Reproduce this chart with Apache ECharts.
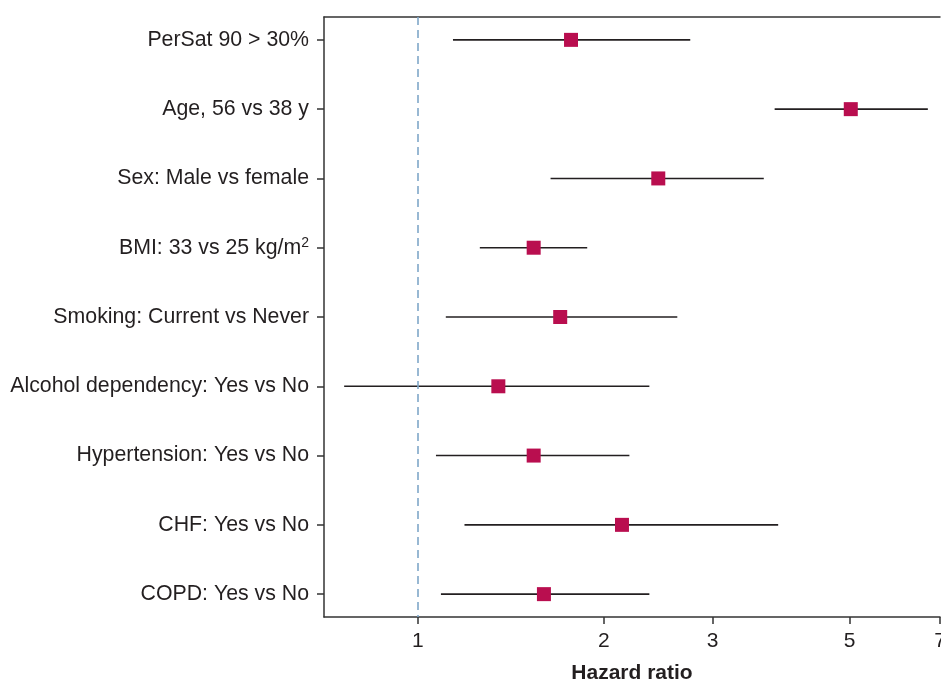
<!DOCTYPE html>
<html>
<head>
<meta charset="utf-8">
<title>Hazard ratio</title>
<script src="https://cdn.jsdelivr.net/npm/echarts@6/dist/echarts.min.js"></script>
<style>
  html, body { margin: 0; padding: 0; background: #fff; }
  #chart_main { width: 941px; height: 680px; }
</style>
</head>
<body>
<div id="chart_main"></div>
<script type="text/javascript">
// risk factors, top to bottom
var factors = [
    'PerSat 90 > 30%',
    'Age, 56 vs 38 y',
    'Sex: Male vs female',
    'BMI: 33 vs 25 kg/m{sup|2}',
    'Smoking: Current vs Never',
    'Alcohol dependency: Yes vs No',
    'Hypertension: Yes vs No',
    'CHF: Yes vs No',
    'COPD: Yes vs No'
];
var hr    = [1.77, 5.02, 2.45, 1.54, 1.70, 1.35, 1.54, 2.14, 1.60];
var lower = [1.14, 3.78, 1.64, 1.26, 1.11, 0.76, 1.07, 1.19, 1.09];
var upper = [2.76, 6.69, 3.63, 1.88, 2.63, 2.37, 2.20, 3.83, 2.37];
var xTicks = [1, 2, 3, 5, 7];
var xMin = 0.705, xMax = 7;

var font = "'Liberation Sans', Arial, Helvetica, sans-serif";
var ink = '#231f20';
var lg = function(v){ return Math.log10(v); };

var ciData = [], pointData = [];
for (var i = 0; i < factors.length; i++) {
    ciData.push([lg(lower[i]), lg(upper[i]), i]);
    pointData.push([lg(hr[i]), i]);
}
var tickPos = xTicks.map(lg);
var rows = factors.map(function(f, i){ return i; });

var myChart = echarts.init(document.getElementById('chart_main'));
var option = {
    backgroundColor: '#fff',
    animation: false,
    grid: { left: 324, right: 1, top: 17, bottom: 63, outerBoundsMode: 'none', containLabel: false },
    xAxis: [{
        type: 'value',
        min: lg(xMin), max: lg(xMax),
        name: 'Hazard ratio',
        nameLocation: 'middle',
        nameGap: 46,
        nameTextStyle: { fontFamily: font, fontSize: 21, fontWeight: 'bold', color: ink },
        axisLine: { show: true, onZero: false, lineStyle: { color: '#333', width: 1.5 } },
        axisTick: { show: true, length: 7, customValues: tickPos, lineStyle: { color: '#333', width: 1.5 } },
        axisLabel: {
            customValues: tickPos,
            margin: 14,
            fontFamily: font, fontSize: 21, color: ink,
            formatter: function(v){ return String(Math.round(Math.pow(10, v))); }
        },
        splitLine: { show: false }
    }, {
        type: 'value',
        position: 'top',
        min: lg(xMin), max: lg(xMax),
        axisLine: { show: true, onZero: false, lineStyle: { color: '#333', width: 1.5 } },
        axisTick: { show: false },
        axisLabel: { show: false },
        splitLine: { show: false }
    }],
    yAxis: {
        type: 'value',
        inverse: true,
        min: -0.33, max: 8.33,
        axisLine: { show: true, onZero: false, lineStyle: { color: '#333', width: 1.5 } },
        axisTick: { show: true, length: 7, customValues: rows, lineStyle: { color: '#333', width: 1.5 } },
        axisLabel: {
            customValues: rows,
            margin: 15,
            fontFamily: font, fontSize: 21.3, color: ink,
            formatter: function(v){ return factors[Math.round(v)]; },
            rich: {
                sup: { fontFamily: font, fontSize: 14, color: ink, verticalAlign: 'top', padding: [0, 0, 10, 0] }
            }
        },
        splitLine: { show: false }
    },
    series: [{
        type: 'custom',
        xAxisIndex: 0,
        data: ciData,
        encode: { x: [0, 1], y: 2 },
        renderItem: function(params, api){
            var a = api.coord([api.value(0), api.value(2)]);
            var b = api.coord([api.value(1), api.value(2)]);
            return {
                type: 'line',
                shape: { x1: a[0], y1: a[1], x2: b[0], y2: b[1] },
                style: { stroke: ink, lineWidth: 1.6 }
            };
        },
        markLine: {
            silent: true,
            symbol: 'none',
            label: { show: false },
            lineStyle: { color: '#7fa7c9', type: [8, 5], width: 1.6 },
            data: [{ xAxis: 0 }]
        },
        z: 2
    }, {
        type: 'scatter',
        xAxisIndex: 0,
        data: pointData,
        symbol: 'rect',
        symbolSize: 14,
        itemStyle: { color: '#b90e4f', opacity: 1 },
        z: 3
    }]
};
myChart.setOption(option);
</script>
</body>
</html>
